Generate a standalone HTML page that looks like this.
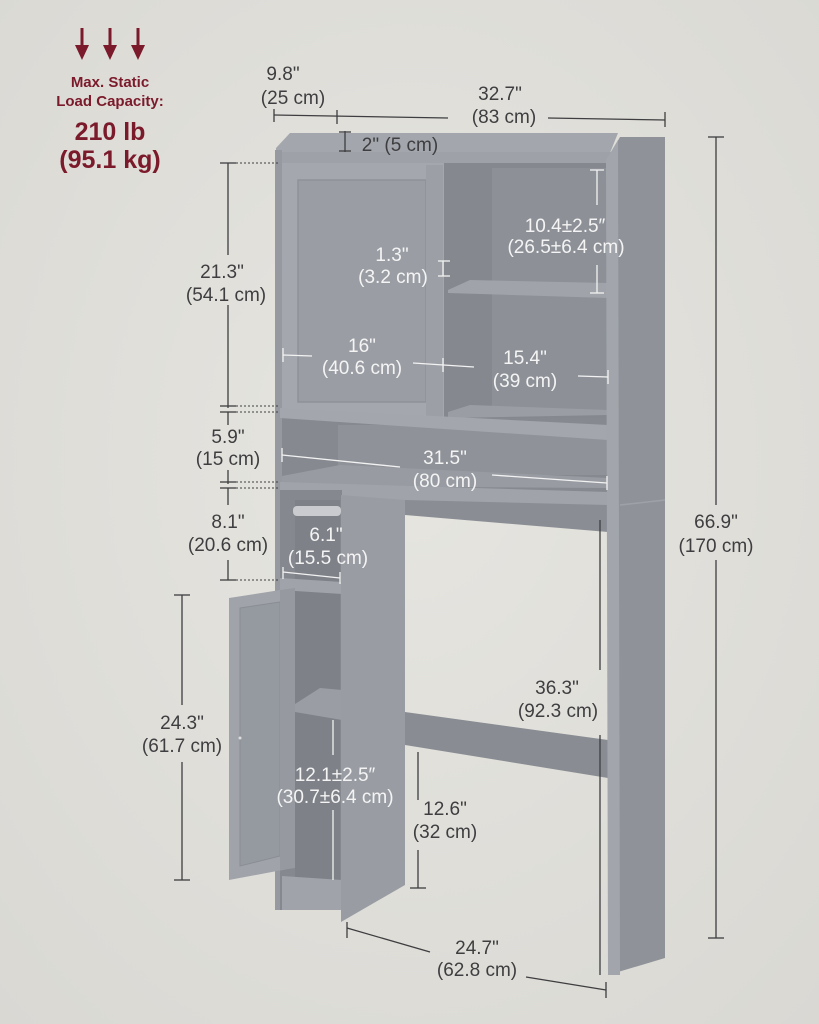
<!DOCTYPE html>
<html><head><meta charset="utf-8"><style>
html,body{margin:0;padding:0;width:819px;height:1024px;overflow:hidden;background:#e1e0db}
svg{display:block}
text{font-family:"Liberation Sans",sans-serif;text-anchor:middle}
.d{fill:#3e3e40;font-size:19px}
.w{fill:#f4f4f4;font-size:19px}
.r{fill:#7b1a2b}
</style></head><body>
<svg width="819" height="1024" viewBox="0 0 819 1024">
<defs>
<radialGradient id="bg" cx="0.5" cy="0.45" r="0.75"><stop offset="0" stop-color="#e6e5e0"/><stop offset="1" stop-color="#d9d8d3"/></radialGradient>
</defs>
<rect width="819" height="1024" fill="url(#bg)"/>

<g class="r" fill="#7b1a2b">
<rect x="80.5" y="28" width="3" height="20"/><polygon points="75,45 89,45 82,60"/>
<rect x="108.5" y="28" width="3" height="20"/><polygon points="103,45 117,45 110,60"/>
<rect x="136.5" y="28" width="3" height="20"/><polygon points="131,45 145,45 138,60"/>
</g>
<text x="110" y="87" class="r" font-size="15" font-weight="bold">Max. Static</text>
<text x="110" y="106" class="r" font-size="15" font-weight="bold">Load Capacity:</text>
<text x="110" y="140" class="r" font-size="25" font-weight="bold">210 lb</text>
<text x="110" y="168" class="r" font-size="25" font-weight="bold">(95.1 kg)</text>

<polygon points="276,148 290,133 618,133 608,158 276,158" fill="#a3a7ad"/>
<polygon points="278,152 612,152 610,165 278,163" fill="#9ea2a8"/>
<rect x="275" y="150" width="7" height="760" fill="#969aa0"/>
<rect x="443" y="163" width="167" height="255" fill="#85898f"/>
<rect x="492" y="168" width="116" height="245" fill="#8d9197"/>
<polygon points="448,290 470,280 608,283 608,298 448,293" fill="#a0a4aa"/>
<polygon points="448,412 470,405 608,410 608,415 448,418" fill="#9a9ea4"/>
<rect x="282" y="163" width="162" height="255" fill="#a4a8ae"/>
<rect x="298" y="180" width="128" height="222" fill="#9a9ea4" stroke="#8e9298" stroke-width="1.5"/>
<rect x="426" y="165" width="17" height="252" fill="#9ca0a6"/>
<rect x="282" y="418" width="328" height="75" fill="#868a90"/>
<rect x="338" y="425" width="270" height="50" fill="#8f9399"/>
<polygon points="280,408 608,425 608,440 280,418" fill="#a3a7ad"/>
<polygon points="282,476 340,465 608,478 608,488 282,486" fill="#989ca2"/>
<polygon points="280,482 608,492 608,520 280,492" fill="#a0a4aa"/>
<polygon points="405,500 608,505 608,532 405,515" fill="#8a8e94"/>
<rect x="280" y="490" width="62" height="420" fill="#85898f"/>
<rect x="295" y="500" width="45" height="400" fill="#7e8288"/>
<rect x="293" y="506" width="48" height="10" rx="4" fill="#c9cbce"/>
<polygon points="280,578 342,582 342,594 280,590" fill="#a0a4aa"/>
<polygon points="295,704 320,688 342,690 342,720 295,712" fill="#9a9ea4"/>
<polygon points="282,876 342,880 342,910 282,910" fill="#a0a4aa"/>
<polygon points="341,495 405,500 405,885 341,922" fill="#999da3"/>
<polygon points="405,712 608,740 608,778 405,745" fill="#898d93"/>
<polygon points="608,158 620,137 665,137 665,958 608,975" fill="#8f9399"/>
<polygon points="606,160 618,140 620,975 608,975" fill="#a2a6ac"/>
<line x1="620" y1="505" x2="665" y2="500" stroke="#9ea2a8" stroke-width="1.5"/>
<polygon points="229,598 293,588 293,868 229,880" fill="#a0a4aa"/>
<polygon points="240,608 280,602 280,856 240,866" fill="#959aa0" stroke="#8a8e94"/>
<polygon points="280,590 295,588 295,868 280,870" fill="#969aa0"/>
<circle cx="240" cy="738" r="1.5" fill="#dcdcdc"/>

<g stroke="#3e3e40" stroke-width="1.3" fill="none">
<line x1="274" y1="115" x2="448" y2="118"/><line x1="274" y1="109" x2="274" y2="122"/><line x1="337" y1="110" x2="337" y2="124"/>
<line x1="548" y1="118" x2="665" y2="120"/><line x1="665" y1="112" x2="665" y2="127"/>
<line x1="716" y1="137" x2="716" y2="505"/><line x1="716" y1="560" x2="716" y2="938"/>
<line x1="708" y1="137" x2="724" y2="137"/><line x1="708" y1="938" x2="724" y2="938"/>
<line x1="228" y1="163" x2="228" y2="255"/><line x1="228" y1="305" x2="228" y2="408"/>
<line x1="220" y1="163" x2="236" y2="163"/><line x1="220" y1="406" x2="236" y2="406"/>
<line x1="220" y1="412" x2="236" y2="412"/>
<line x1="228" y1="412" x2="228" y2="425"/><line x1="228" y1="470" x2="228" y2="484"/>
<line x1="220" y1="482" x2="236" y2="482"/><line x1="220" y1="488" x2="236" y2="488"/>
<line x1="228" y1="488" x2="228" y2="505"/><line x1="228" y1="560" x2="228" y2="580"/>
<line x1="220" y1="580" x2="236" y2="580"/>
<line x1="182" y1="595" x2="182" y2="705"/><line x1="182" y1="762" x2="182" y2="880"/>
<line x1="174" y1="595" x2="190" y2="595"/><line x1="174" y1="880" x2="190" y2="880"/>
<line x1="418" y1="752" x2="418" y2="800"/><line x1="418" y1="850" x2="418" y2="888"/>
<line x1="410" y1="888" x2="426" y2="888"/>
<line x1="600" y1="520" x2="600" y2="670"/><line x1="600" y1="735" x2="600" y2="975"/>
<line x1="347" y1="928" x2="430" y2="952"/><line x1="347" y1="922" x2="347" y2="938"/>
<line x1="526" y1="977" x2="606" y2="990"/><line x1="606" y1="982" x2="606" y2="998"/>
</g>
<g stroke="#3e3e40" stroke-width="1" stroke-dasharray="2,2">
<line x1="236" y1="163" x2="278" y2="163"/><line x1="236" y1="406" x2="278" y2="406"/><line x1="236" y1="412" x2="278" y2="412"/>
<line x1="236" y1="482" x2="278" y2="482"/><line x1="236" y1="488" x2="278" y2="488"/><line x1="236" y1="580" x2="278" y2="580"/>
</g>
<g stroke="#3e3e40" stroke-width="1.3">
<line x1="345" y1="131" x2="345" y2="152"/><line x1="339" y1="132" x2="351" y2="132"/><line x1="339" y1="151" x2="351" y2="151"/>
</g>
<g stroke="#f2f2f2" stroke-width="1.3">
<line x1="597" y1="170" x2="597" y2="205"/><line x1="597" y1="265" x2="597" y2="293"/>
<line x1="590" y1="170" x2="604" y2="170"/><line x1="590" y1="293" x2="604" y2="293"/>
<line x1="443" y1="261" x2="443" y2="276"/><line x1="438" y1="261" x2="450" y2="261"/><line x1="438" y1="276" x2="450" y2="276"/>
<line x1="283" y1="355" x2="312" y2="356"/><line x1="283" y1="348" x2="283" y2="362"/>
<line x1="413" y1="363" x2="474" y2="367"/><line x1="443" y1="358" x2="443" y2="372"/>
<line x1="578" y1="376" x2="608" y2="377"/><line x1="608" y1="370" x2="608" y2="384"/>
<line x1="282" y1="455" x2="400" y2="467"/><line x1="282" y1="448" x2="282" y2="462"/>
<line x1="492" y1="475" x2="607" y2="483"/><line x1="607" y1="476" x2="607" y2="490"/>
<line x1="283" y1="572" x2="340" y2="578"/><line x1="283" y1="567" x2="283" y2="579"/><line x1="340" y1="572" x2="340" y2="584"/>
<line x1="333" y1="720" x2="333" y2="755"/><line x1="333" y1="810" x2="333" y2="880"/>
</g>

<text x="283" y="80" class="d">9.8"</text><text x="293" y="104" class="d">(25 cm)</text>
<text x="500" y="100" class="d">32.7"</text><text x="504" y="123" class="d">(83 cm)</text>
<text x="400" y="151" class="d">2" (5 cm)</text>
<text x="222" y="278" class="d">21.3"</text><text x="226" y="301" class="d">(54.1 cm)</text>
<text x="228" y="443" class="d">5.9"</text><text x="228" y="465" class="d">(15 cm)</text>
<text x="228" y="528" class="d">8.1"</text><text x="228" y="551" class="d">(20.6 cm)</text>
<text x="716" y="528" class="d">66.9"</text><text x="716" y="552" class="d">(170 cm)</text>
<text x="557" y="694" class="d">36.3"</text><text x="558" y="717" class="d">(92.3 cm)</text>
<text x="182" y="729" class="d">24.3"</text><text x="182" y="752" class="d">(61.7 cm)</text>
<text x="445" y="815" class="d">12.6"</text><text x="445" y="838" class="d">(32 cm)</text>
<text x="477" y="954" class="d">24.7"</text><text x="477" y="976" class="d">(62.8 cm)</text>
<text x="565" y="232" class="w">10.4±2.5″</text><text x="566" y="253" class="w">(26.5±6.4 cm)</text>
<text x="392" y="261" class="w">1.3"</text><text x="393" y="283" class="w">(3.2 cm)</text>
<text x="362" y="352" class="w">16"</text><text x="362" y="374" class="w">(40.6 cm)</text>
<text x="525" y="364" class="w">15.4"</text><text x="525" y="387" class="w">(39 cm)</text>
<text x="445" y="464" class="w">31.5"</text><text x="445" y="487" class="w">(80 cm)</text>
<text x="326" y="541" class="w">6.1"</text><text x="328" y="564" class="w">(15.5 cm)</text>
<text x="335" y="781" class="w">12.1±2.5″</text><text x="335" y="803" class="w">(30.7±6.4 cm)</text>
</svg>
</body></html>
